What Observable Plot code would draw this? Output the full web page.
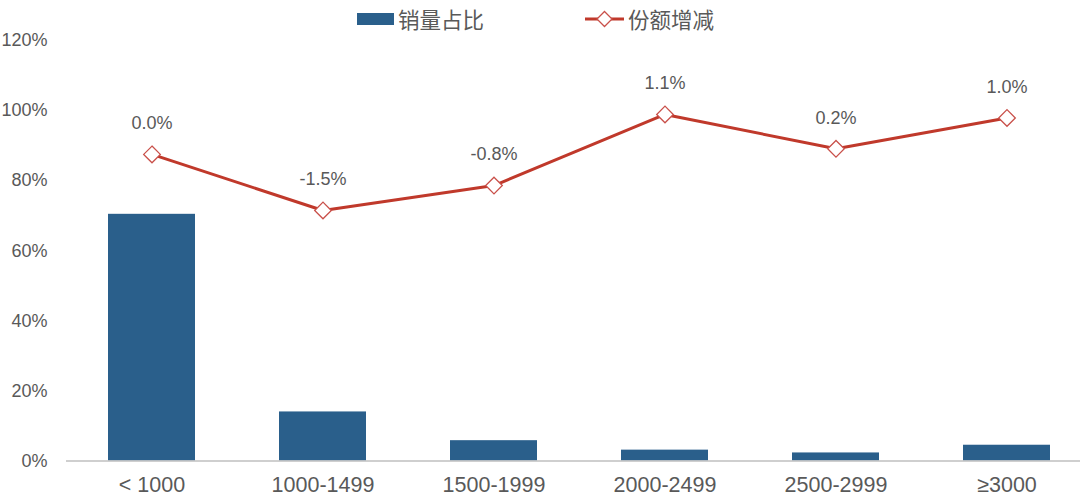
<!DOCTYPE html>
<html>
<head>
<meta charset="utf-8">
<script src="https://cdn.jsdelivr.net/npm/d3@7"></script>
<script src="https://cdn.jsdelivr.net/npm/@observablehq/plot@0.6"></script>
<style>
  html, body { margin: 0; padding: 0; background: #fff; }
  body { width: 1080px; height: 502px; overflow: hidden; font-family: "Liberation Sans", "Noto Sans CJK SC", sans-serif; }
  #legend { position: relative; height: 30px; width: 1080px; }
  #legend .item { position: absolute; top: 4px; height: 30px; display: flex; align-items: center; }
  #legend .lbl { font-family: "Noto Sans CJK SC", sans-serif; font-size: 21.5px; color: #595959; margin-left: 4px; line-height: 30px; }
  #chart svg { overflow: visible; display: block; }
</style>
</head>
<body>
<div id="legend">
  <div class="item" style="left:357px">
    <svg width="37" height="14"><rect x="0" y="1" width="37" height="12" fill="#2A5F8B"></rect></svg>
    <span class="lbl">销量占比</span>
  </div>
  <div class="item" style="left:585px">
    <svg width="39" height="20"><line x1="0" y1="10" x2="39" y2="10" stroke="#C0392B" stroke-width="3"></line><path d="M19.5,2.5L27,10L19.5,17.5L12,10Z" fill="#fff" stroke="#C9504A" stroke-width="1.3"></path></svg>
    <span class="lbl">份额增减</span>
  </div>
</div>
<div id="chart"></div>
<script>
// Price bands
const categories = ["< 1000", "1000-1499", "1500-1999", "2000-2499", "2500-2999", "≥3000"];
// 销量占比 (sales share, %)
const salesShare = [70.4, 14.0, 5.8, 3.1, 2.3, 4.5];
// 份额增减 line position read on the left axis (%)
const changePos = [87.5, 71.5, 78.6, 98.9, 89.1, 97.9];
// 份额增减 data labels
const changeLabels = ["0.0%", "-1.5%", "-0.8%", "1.1%", "0.2%", "1.0%"];
// Y axis ticks
const yTicks = [0, 20, 40, 60, 80, 100, 120];

const bars = categories.map((c, i) => ({cat: c, v: salesShare[i]}));
const pts = categories.map((c, i) => ({cat: c, v: changePos[i], label: changeLabels[i]}));

const chart = Plot.plot({
  width: 1080,
  height: 472,
  marginTop: 10,
  marginBottom: 41.5,
  marginLeft: 66,
  marginRight: 0,
  style: {fontFamily: "Liberation Sans, Noto Sans CJK SC, sans-serif", color: "#595959", background: "#fff", overflow: "visible"},
  x: {domain: categories, range: [66, 1093], paddingInner: 0.49, paddingOuter: 0.245, label: null},
  y: {domain: [0, 120], label: null},
  marks: [
    Plot.barY(bars, {x: "cat", y: "v", fill: "#2A5F8B"}),
    Plot.ruleY([0], {stroke: "#BFBFBF", strokeWidth: 1.5}),
    Plot.axisY({ticks: yTicks, tickSize: 0, tickPadding: 19, tickFormat: d => d + "%", fontSize: 18, fill: "#595959", label: null}),
    Plot.axisX({tickSize: 0, tickPadding: 16, fontSize: 21.5, fill: "#595959", label: null}),
    Plot.line(pts, {x: "cat", y: "v", stroke: "#C0392B", strokeWidth: 3}),
    Plot.dot(pts, {x: "cat", y: "v", symbol: "diamond2", r: 7.5, fill: "#fff", stroke: "#C9504A", strokeWidth: 1.3}),
    Plot.text(pts, {x: "cat", y: "v", text: "label", dy: -31, fontSize: 18, fill: "#595959"})
  ]
});
document.getElementById("chart").appendChild(chart);
</script>
</body>
</html>
